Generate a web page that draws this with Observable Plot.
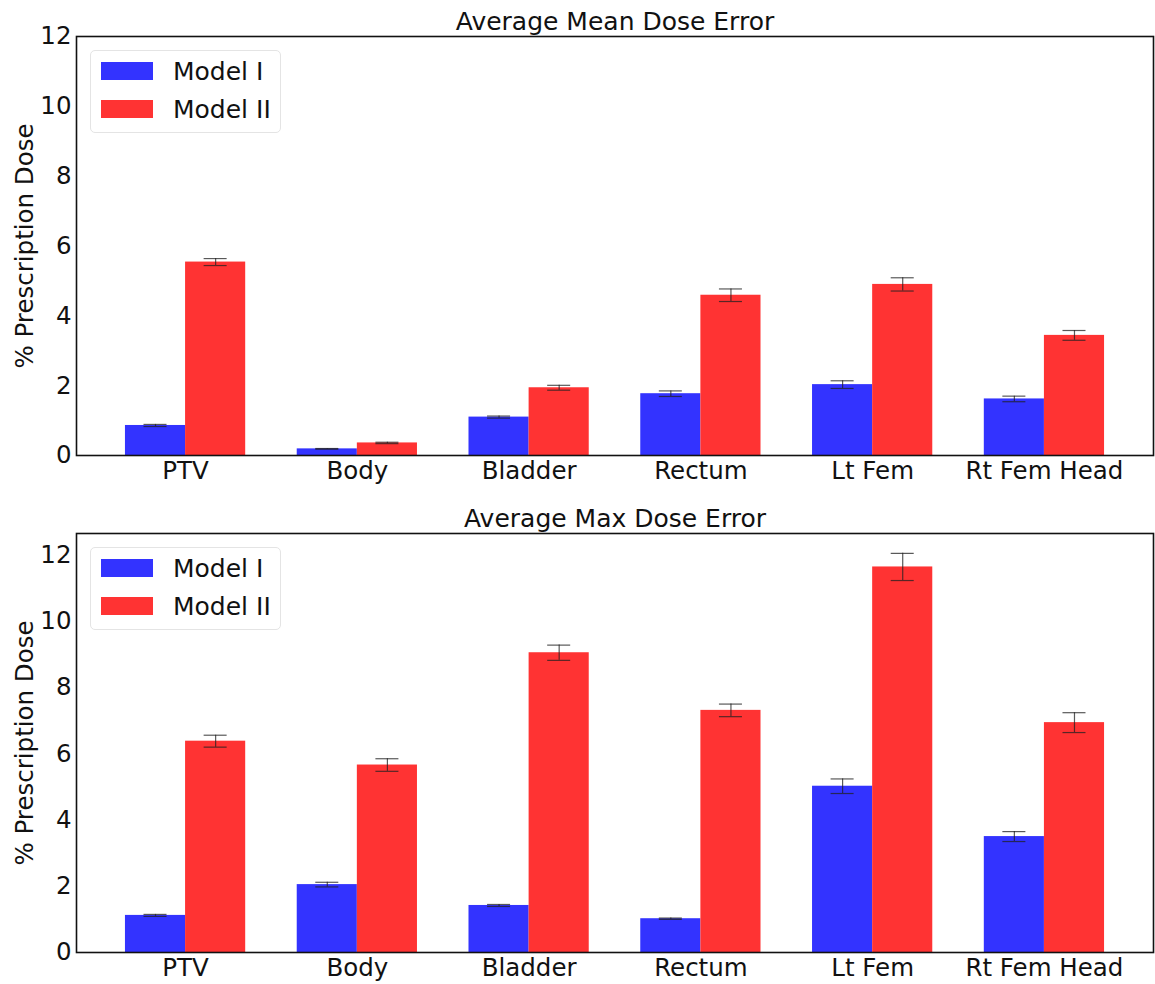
<!DOCTYPE html>
<html>
<head>
<meta charset="utf-8">
<script src="https://cdn.jsdelivr.net/npm/d3@7"></script>
<script src="https://cdn.jsdelivr.net/npm/@observablehq/plot@0.6"></script>
<style>
  html, body { margin: 0; padding: 0; background: #fff; }
  #wrap { position: relative; width: 1155px; height: 984px; font-family: "DejaVu Sans", sans-serif; }
  .panel { position: absolute; left: 0; }
  .legend { position: absolute; border: 1px solid #e4e4e4; border-radius: 5px; background: rgba(255,255,255,0.8); box-sizing: border-box; }
  .legend .sw { position: absolute; left: 10px; width: 52px; height: 18px; }
  .legend .lab { position: absolute; left: 82px; font-size: 25px; line-height: 25px; color: #111; white-space: nowrap; }
</style>
</head>
<body>
<div id="wrap"></div>
<script>
const categories = ["PTV", "Body", "Bladder", "Rectum", "Lt Fem", "Rt Fem Head"];
const seriesNames = ["Model I", "Model II"];
const seriesColors = ["#3333ff", "#ff3333"];

// Average Mean Dose Error
const meanModelI     = [0.86, 0.19, 1.10, 1.77, 2.03, 1.62];
const meanModelIErr  = [0.03, 0.01, 0.03, 0.08, 0.11, 0.08];
const meanModelII    = [5.54, 0.36, 1.94, 4.59, 4.90, 3.44];
const meanModelIIErr = [0.10, 0.02, 0.07, 0.18, 0.19, 0.14];

// Average Max Dose Error
const maxModelI     = [1.12, 2.05, 1.42, 1.02, 5.02, 3.50];
const maxModelIErr  = [0.03, 0.07, 0.03, 0.02, 0.22, 0.15];
const maxModelII    = [6.38, 5.66, 9.05, 7.31, 11.64, 6.94];
const maxModelIIErr = [0.18, 0.19, 0.23, 0.19, 0.41, 0.30];

const yTicks = [0, 2, 4, 6, 8, 10, 12];
const barWidth = 0.35;
const capHalf = 0.067;

function buildRows(vals1, err1, vals2, err2) {
  const rows = [];
  categories.forEach((c, i) => {
    rows.push({i, series: seriesNames[0], x1: i - barWidth, x2: i, cx: i - barWidth / 2, v: vals1[i], e: err1[i]});
    rows.push({i, series: seriesNames[1], x1: i, x2: i + barWidth, cx: i + barWidth / 2, v: vals2[i], e: err2[i]});
  });
  return rows;
}

function panel(title, rows, yMax, height, marginTop, marginBottom) {
  return Plot.plot({
    width: 1155,
    height,
    marginTop,
    marginBottom,
    marginLeft: 76,
    marginRight: 2,
    style: {fontFamily: "DejaVu Sans, sans-serif", fontSize: "24px", color: "#111", background: "white"},
    x: {type: "linear", domain: [-0.635, categories.length - 1 + 0.635]},
    y: {domain: [0, yMax]},
    color: {domain: seriesNames, range: seriesColors},
    marks: [
      Plot.rectY(rows, {x1: "x1", x2: "x2", y1: 0, y2: "v", fill: "series", inset: 0}),
      Plot.ruleX(rows, {x: "cx", y1: d => d.v - d.e, y2: d => d.v + d.e, stroke: "#222", strokeOpacity: 0.75, strokeWidth: 1.2}),
      Plot.ruleY(rows, {y: d => d.v + d.e, x1: d => d.cx - capHalf, x2: d => d.cx + capHalf, stroke: "#222", strokeOpacity: 0.75, strokeWidth: 1.2}),
      Plot.ruleY(rows, {y: d => d.v - d.e, x1: d => d.cx - capHalf, x2: d => d.cx + capHalf, stroke: "#222", strokeOpacity: 0.75, strokeWidth: 1.2}),
      Plot.axisX({ticks: d3.range(categories.length), tickFormat: i => categories[i], tickSize: 0, tickPadding: 6, fontSize: 24.5, label: null}),
      Plot.axisY({ticks: yTicks, tickFormat: d => String(d), tickSize: 0, tickPadding: 5, fontSize: 24.5,
                  label: "% Prescription Dose", labelAnchor: "center", labelArrow: "none", labelOffset: 61}),
      Plot.frame({stroke: "#111", strokeWidth: 1.6}),
      Plot.text([title], {frameAnchor: "top", text: d => d, dy: -7, lineAnchor: "bottom", fontSize: 25, fill: "#111"})
    ]
  });
}

function legend(top) {
  const lg = document.createElement("div");
  lg.className = "legend";
  lg.style.left = "90px";
  lg.style.top = top + "px";
  lg.style.width = "191px";
  lg.style.height = "83px";
  seriesNames.forEach((name, k) => {
    const sw = document.createElement("div");
    sw.className = "sw";
    sw.style.top = (11 + k * 38) + "px";
    sw.style.background = seriesColors[k];
    lg.appendChild(sw);
    const lab = document.createElement("div");
    lab.className = "lab";
    lab.style.top = (8 + k * 38) + "px";
    lab.textContent = name;
    lg.appendChild(lab);
  });
  return lg;
}

const wrap = document.getElementById("wrap");

const p1 = panel("Average Mean Dose Error", buildRows(meanModelI, meanModelIErr, meanModelII, meanModelIIErr), 12, 490, 36, 35);
const d1 = document.createElement("div");
d1.className = "panel"; d1.style.top = "0px";
d1.appendChild(p1);
wrap.appendChild(d1);

const p2 = panel("Average Max Dose Error", buildRows(maxModelI, maxModelIErr, maxModelII, maxModelIIErr), 12.65, 494, 43, 32);
const d2 = document.createElement("div");
d2.className = "panel"; d2.style.top = "490px";
d2.appendChild(p2);
wrap.appendChild(d2);

wrap.appendChild(legend(50));
wrap.appendChild(legend(547));
</script>
</body>
</html>
